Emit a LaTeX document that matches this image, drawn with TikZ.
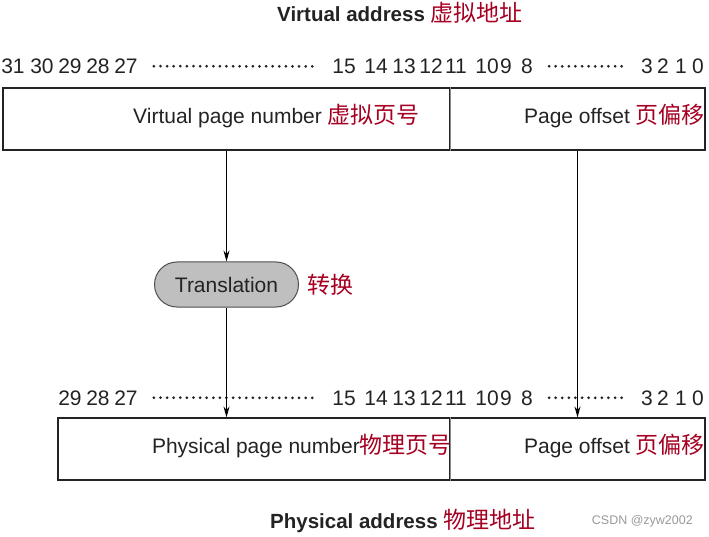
\documentclass[tikz,border=0pt]{standalone}
\usepackage{fontspec}
\setmainfont{Liberation Sans}
\newfontfamily\cjk{Noto Sans CJK SC}
\usetikzlibrary{arrows.meta, positioning, shapes.misc}
\definecolor{cnred}{RGB}{165,0,33}
\definecolor{ink}{RGB}{35,35,35}
\newcommand{\zh}[1]{{\cjk\mdseries\fontsize{23}{26}\selectfont\color{cnred}#1}}

\begin{document}
\begin{tikzpicture}[
    x=1pt, y=-1pt,
    font=\fontsize{21}{25}\selectfont,
    text=ink,
    >={Stealth[length=11pt, width=6pt]},
    field/.style={rectangle, draw=ink, line width=1.2pt, inner sep=0pt, minimum height=62pt},
    bitnum/.style={inner sep=0pt, anchor=base},
    fieldtext/.style={inner sep=0pt, anchor=base east},
    dots/.style={line width=3pt, line cap=round, dash pattern=on 0pt off 6.6pt, draw=ink, shorten <=16pt, shorten >=15pt},
    xlate/.style={rounded rectangle, draw=ink!80, fill=black!25, line width=1pt, minimum width=144pt, minimum height=45pt, inner sep=0pt},
    link/.style={->, line width=1pt, draw=black},
]
    \useasboundingbox (0,0) rectangle (709,537);

    % Virtual address
    \node[anchor=base west, inner sep=0pt, font=\fontsize{20.5}{24}\selectfont\bfseries] (vaddr) at (277,22) {Virtual address \zh{虚拟地址}};
    \foreach \n/\x in {31/13, 30/42, 29/70, 28/98, 27/126, 15/344, 14/376, 13/404, 12/431, 11/456, 10/487, 9/506, 8/527, 3/647, 2/663, 1/681, 0/698}
        \node[bitnum] (v\n) at (\x,73.5) {\n};
    \draw[dots] (v27.east) -- (v15.west);
    \draw[dots] (v8.east) -- (v3.west);

    \node[field, minimum width=447pt] (vpn) at (226.5,119) {};
    \node[field, minimum width=255pt] (voff) at (577.5,119) {};
    \draw[black!45, line width=1pt] (vpn.north east) -- (vpn.south east);
    \node[fieldtext] at (420,124) {Virtual page number \zh{虚拟页号}};
    \node[fieldtext] at (705,124) {Page offset \zh{页偏移}};

    % Translation
    \node[xlate] (xlate) at (226.5,284.5) {Translation};
    \node[right=8pt of xlate, inner sep=0pt] (xlatezh) {\zh{转换}};

    % Physical address
    \foreach \n/\x in {29/70, 28/98, 27/126, 15/344, 14/376, 13/404, 12/431, 11/456, 10/487, 9/506, 8/527, 3/647, 2/663, 1/681, 0/698}
        \node[bitnum] (p\n) at (\x,405) {\n};
    \draw[dots] (p27.east) -- (p15.west);
    \draw[dots] (p8.east) -- (p3.west);

    \node[field, minimum width=392pt] (ppn) at (254,449) {};
    \node[field, minimum width=255pt] (poff) at (577.5,449) {};
    \draw[black!45, line width=1pt] (ppn.north east) -- (ppn.south east);
    \node[fieldtext] at (452,453) {Physical page number\zh{物理页号}};
    \node[fieldtext] at (705,453) {Page offset \zh{页偏移}};

    \node[anchor=base west, inner sep=0pt, font=\fontsize{20.5}{24}\selectfont\bfseries] (paddr) at (270,528) {Physical address \zh{物理地址}};
    \node[anchor=base east, inner sep=0pt, font=\fontsize{12.5}{14}\selectfont, text=black!40] (csdn) at (693,524) {CSDN @zyw2002};

    \draw[link] (vpn.south) -- (xlate.north);
    \draw[link] (xlate.south) -- (xlate.south |- ppn.north);
    \draw[link] (voff.south) -- (poff.north);
\end{tikzpicture}
\end{document}
